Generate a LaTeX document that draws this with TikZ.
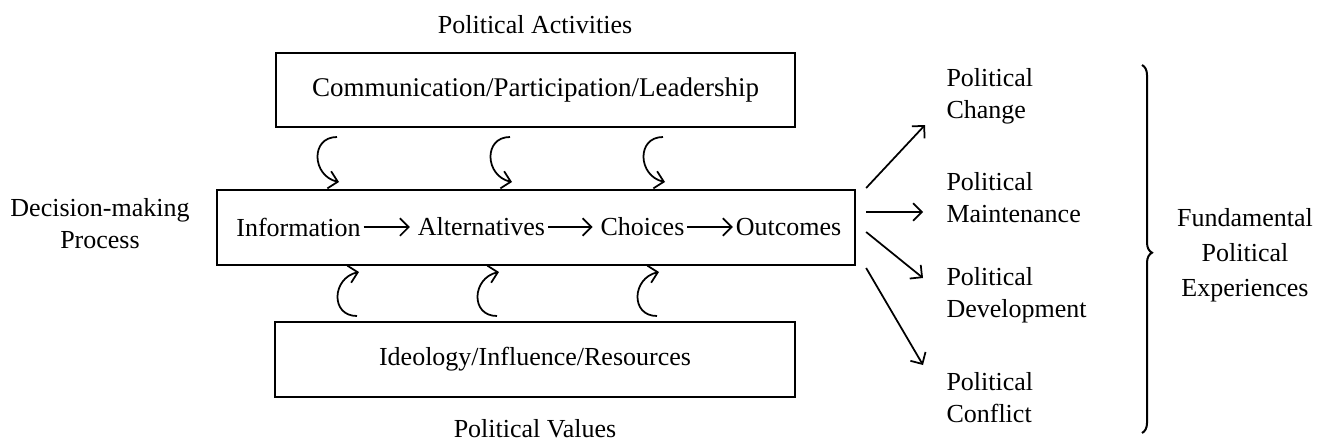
\documentclass[tikz,border=0pt]{standalone}
\usepackage{fontspec}
\setmainfont{Liberation Serif}
\usetikzlibrary{arrows.meta,decorations.pathreplacing,calc}

\begin{document}
\begin{tikzpicture}[x=0.4pt, y=-0.4pt,
          box/.style={draw,line width=0.9pt,inner sep=0pt},
          lbl/.style={inner sep=0pt,align=center},
          word/.style={inner sep=1pt},
          arr/.style={-{Straight Barb[length=3.5pt,width=7pt]},line width=0.7pt},
          font=\fontsize{10.4}{12.8}\selectfont]
        \useasboundingbox (0,0) rectangle (1318,447);

        % the three boxes
        \node[box,minimum width=207.6pt,minimum height=29.6pt,font=\fontsize{10.8}{12.8}\selectfont] (act) at (535.5,90) {Communication/Participation/Leadership};
        \node[box,minimum width=255.2pt,minimum height=30pt] (proc) at (536,227.5) {};
        \node[box,minimum width=208pt,minimum height=30pt] (val) at (535,359.5) {Ideology/Influence/Resources};

        \node[lbl] (acttitle) at (535,25) {Political Activities};
        \node[lbl] (valtitle) at (535,429) {Political Values};
        \node[lbl] (dmp) at (100,224) {Decision-making\\Process};

        % steps inside the process box
        \node[word] (inf) at (298.5,227) {Information};
        \node[word] (alt) at (481.5,227) {Alternatives};
        \node[word] (cho) at (642.5,227) {Choices};
        \node[word] (out) at (788.5,227) {Outcomes};
        \draw[arr,shorten >=2pt] (inf) -- (alt);
        \draw[arr,shorten >=2pt] (alt) -- (cho);
        \draw[arr] (cho) -- (out);

        % curled arrows
        \foreach \x in {317,490,643}
          \draw[arr] (\x+20,137) .. controls (\x-7,137) and (\x-5,176) .. (\x+22,182);
        \foreach \x in {337,477,637}
          \draw[arr] (\x+20,316) .. controls (\x-7,316) and (\x-5,278) .. (\x+22,272);

        % experiences
        \node[lbl,anchor=west,align=left] (chg) at (946,96) {Political\\Change};
        \node[lbl,anchor=west,align=left] (mnt) at (946,198) {Political\\Maintenance};
        \node[lbl,anchor=west,align=left] (dev) at (946,295) {Political\\Development};
        \node[lbl,anchor=west,align=left] (cfl) at (946,398) {Political\\Conflict};

        \draw[arr] ($(proc.east)+(10,-39.5)$) -- ($(chg.west)+(-21,29)$);
        \draw[arr] ($(proc.east)+(10,-15.5)$) -- ($(mnt.west)+(-23,14)$);
        \draw[arr] ($(proc.east)+(10,4.5)$) -- ($(dev.west)+(-23,-17)$);
        \draw[arr] ($(proc.east)+(10,40.5)$) -- ($(cfl.west)+(-23,-33)$);

        \draw[decorate,decoration={brace,amplitude=4pt,aspect=0.51},line width=0.8pt] (1142,65) -- (1142,433);
        \node[lbl,font=\fontsize{10.4}{14}\selectfont] (fpe) at (1245,255) {Fundamental\\Political\\Experiences};
      \end{tikzpicture}
\end{document}
